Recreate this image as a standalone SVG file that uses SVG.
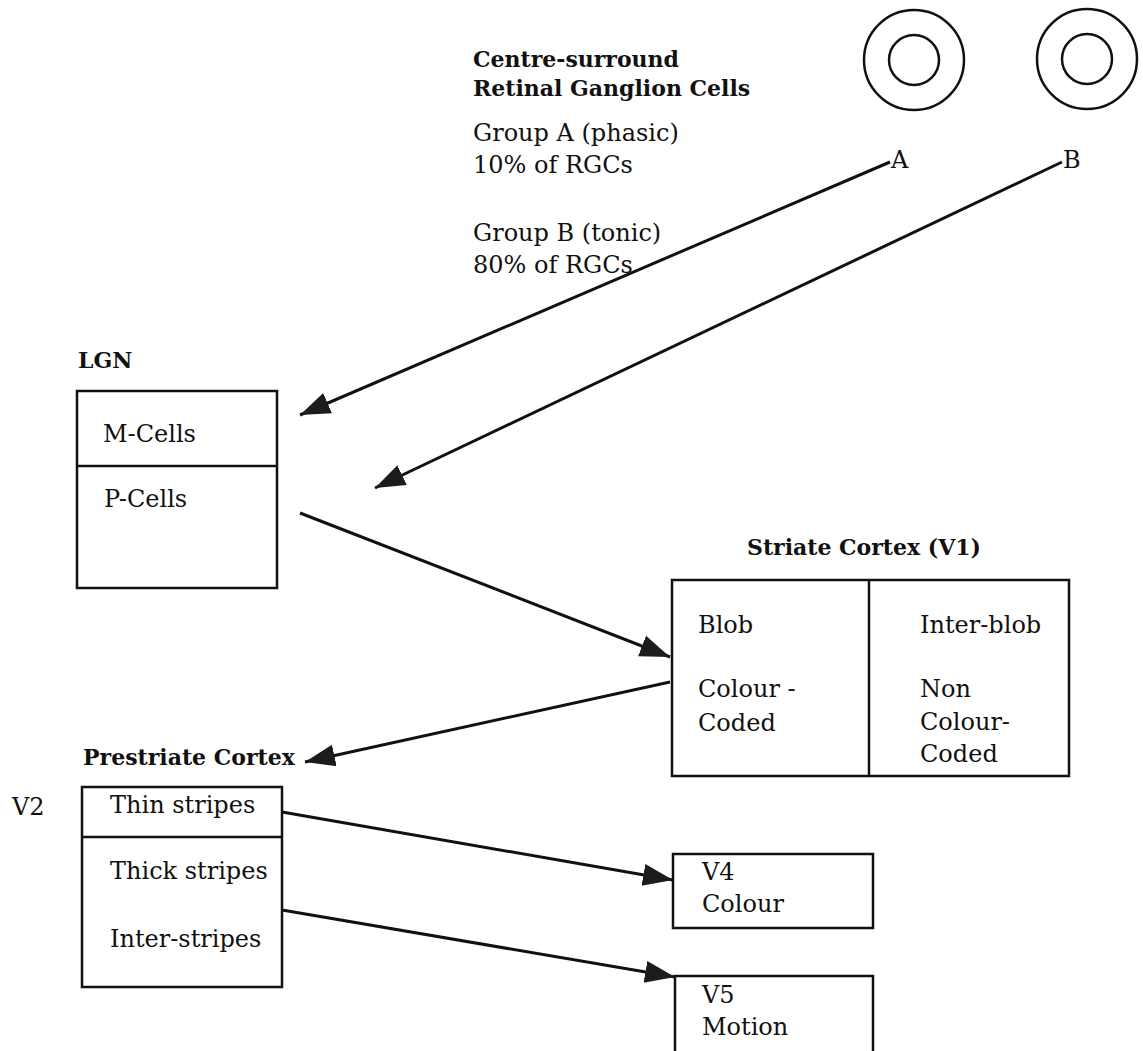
<svg xmlns="http://www.w3.org/2000/svg" width="1143" height="1051" viewBox="0 0 1143 1051">
  <style>
    .t { font-family: "DejaVu Serif", "Liberation Serif", serif; font-size: 24px; fill: #111; }
    .b { font-family: "DejaVu Serif", "Liberation Serif", serif; font-size: 22px; font-weight: bold; fill: #111; }
    .box { fill: none; stroke: #111; stroke-width: 2.5; }
    .cell { fill: none; stroke: #111; stroke-width: 2.5; }
    .conn { fill: none; stroke: #111; stroke-width: 3; marker-end: url(#head); }
  </style>
  <defs>
    <marker id="head" markerUnits="userSpaceOnUse" markerWidth="32" markerHeight="26" viewBox="0 -13 32 26" refX="30" refY="0" orient="auto">
      <path d="M0,-11 L30,0 L0,11 z" fill="#1c1c1c"/>
    </marker>
  </defs>
  <rect width="1143" height="1051" fill="#fff"/>

  <!-- Centre-surround retinal ganglion cells -->
  <g id="rgc-labels">
    <text class="b" x="473" y="67">Centre-surround</text>
    <text class="b" x="473" y="96">Retinal Ganglion Cells</text>
    <text class="t" x="473" y="141">Group A (phasic)</text>
    <text class="t" x="473" y="173">10% of RGCs</text>
    <text class="t" x="473" y="241">Group B (tonic)</text>
    <text class="t" x="473" y="273">80% of RGCs</text>
  </g>
  <g id="cell-a">
    <circle class="cell" cx="914" cy="60" r="50"/>
    <circle class="cell" cx="914" cy="60" r="25"/>
    <text class="t" x="891" y="168">A</text>
  </g>
  <g id="cell-b">
    <circle class="cell" cx="1087" cy="59" r="50"/>
    <circle class="cell" cx="1087" cy="59" r="25"/>
    <text class="t" x="1063" y="168">B</text>
  </g>

  <!-- Lateral geniculate nucleus -->
  <g id="lgn">
    <text class="b" x="78" y="368">LGN</text>
    <rect class="box" x="77" y="391" width="200" height="197"/>
    <line class="box" x1="77" y1="466" x2="277" y2="466"/>
    <text class="t" x="103" y="442">M-Cells</text>
    <text class="t" x="104" y="507">P-Cells</text>
  </g>

  <!-- Striate cortex -->
  <g id="v1">
    <text class="b" x="747" y="555">Striate Cortex (V1)</text>
    <rect class="box" x="672" y="580" width="397" height="196"/>
    <line class="box" x1="869" y1="580" x2="869" y2="776"/>
    <text class="t" x="698" y="633">Blob</text>
    <text class="t" x="698" y="697">Colour -</text>
    <text class="t" x="698" y="731">Coded</text>
    <text class="t" x="920" y="633">Inter-blob</text>
    <text class="t" x="920" y="697">Non</text>
    <text class="t" x="920" y="730">Colour-</text>
    <text class="t" x="920" y="762">Coded</text>
  </g>

  <!-- Prestriate cortex -->
  <g id="v2">
    <text class="b" x="83" y="765">Prestriate Cortex</text>
    <text class="t" x="12" y="815">V2</text>
    <rect class="box" x="82" y="787" width="200" height="200"/>
    <line class="box" x1="82" y1="837" x2="282" y2="837"/>
    <text class="t" x="110" y="813">Thin stripes</text>
    <text class="t" x="110" y="879">Thick stripes</text>
    <text class="t" x="110" y="947">Inter-stripes</text>
  </g>

  <g id="v4">
    <rect class="box" x="673" y="854" width="200" height="74"/>
    <text class="t" x="702" y="880">V4</text>
    <text class="t" x="702" y="912">Colour</text>
  </g>

  <g id="v5">
    <rect class="box" x="675" y="976" width="198" height="90"/>
    <text class="t" x="702" y="1003">V5</text>
    <text class="t" x="702" y="1035">Motion</text>
  </g>

  <!-- Pathways -->
  <g id="connectors">
    <line class="conn" x1="890" y1="162" x2="300" y2="415"/>
    <line class="conn" x1="1062" y1="162" x2="375" y2="488"/>
    <line class="conn" x1="300" y1="513" x2="670" y2="657"/>
    <line class="conn" x1="670" y1="682" x2="305" y2="762"/>
    <line class="conn" x1="282" y1="812" x2="673" y2="880"/>
    <line class="conn" x1="282" y1="910" x2="675" y2="977"/>
  </g>
</svg>
